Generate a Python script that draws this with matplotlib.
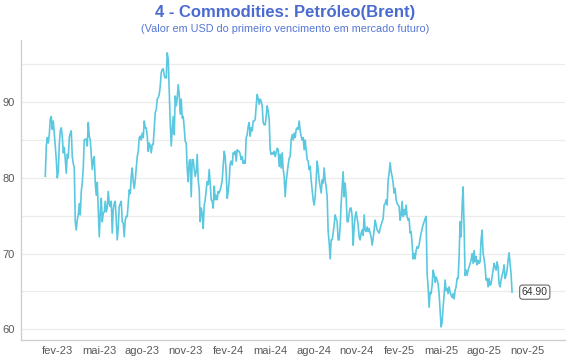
import matplotlib
matplotlib.use("Agg")
import matplotlib.pyplot as plt
import matplotlib.dates as mdates
import pandas as pd
import numpy as np

plt.rcParams['font.family'] = ['Liberation Sans', 'DejaVu Sans']

title = "4 - Commodities: Petróleo(Brent)"
subtitle = "(Valor em USD do primeiro vencimento em mercado futuro)"

start_date = "2023-01-05"
end_date = "2025-09-30"

brent = [
    # 2023
    80.2, 84.2, 85.3, 84.6, 85.7, 87.7, 88.1, 86.4, 87.5, 85.9,
    84.2, 82.4, 80.0, 80.8, 84.4, 86.2, 86.6, 85.5, 83.3, 84.0,
    82.4, 80.6, 83.1, 82.6, 85.3, 85.9, 86.2, 82.8, 81.9, 81.3,
    74.2, 73.1, 74.4, 75.1, 76.6, 75.1, 78.2, 79.3, 81.3, 85.0,
    85.1, 85.1, 84.2, 87.3, 85.5, 85.0, 83.1, 81.1, 82.4, 82.8,
    79.3, 77.7, 79.4, 75.8, 72.2, 75.3, 77.3, 74.2, 75.3, 75.5,
    76.9, 75.5, 76.0, 78.2, 76.6, 76.2, 76.9, 72.7, 75.8, 76.6,
    76.9, 74.2, 71.8, 73.5, 76.2, 76.6, 76.9, 74.2, 74.0, 72.2,
    74.4, 74.9, 74.9, 76.6, 78.4, 77.9, 80.2, 81.3, 79.5, 78.6,
    79.7, 81.3, 82.8, 83.5, 85.3, 85.5, 85.0, 85.9, 85.3, 87.5,
    86.6, 86.6, 85.5, 83.5, 84.6, 84.2, 83.3, 84.4, 84.4, 86.4,
    88.6, 89.0, 90.4, 90.6, 91.0, 92.1, 93.9, 94.3, 94.4, 93.5,
    93.2, 93.2, 96.5, 95.7, 91.7, 87.3, 84.2, 86.4, 88.1, 85.7,
    90.8, 89.5, 90.6, 92.3, 91.0, 88.4, 90.4, 87.9, 88.1, 86.6,
    84.8, 84.6, 81.1, 79.5, 82.2, 82.4, 77.5, 82.4, 82.4, 81.1,
    80.2, 80.8, 83.1, 79.7, 78.4, 74.2, 76.0, 75.3, 73.3, 76.4,
    77.1, 78.4, 79.5, 79.1, 81.1, 79.3,
    # 2024
    77.1, 76.9, 76.0, 78.9, 77.1, 77.7, 77.1, 78.2, 78.0, 78.4,
    78.9, 79.7, 81.5, 83.5, 82.8, 80.6, 77.3, 78.2, 79.7, 81.9,
    82.2, 81.7, 83.3, 83.1, 83.5, 82.2, 83.7, 83.5, 83.5, 83.1,
    82.4, 82.8, 81.9, 82.2, 81.9, 85.3, 85.7, 86.8, 87.3, 85.5,
    86.6, 86.2, 87.5, 87.5, 87.7, 89.5, 91.0, 90.4, 89.7, 90.4,
    90.1, 89.5, 87.3, 87.0, 87.0, 88.1, 89.5, 88.8, 87.7, 83.7,
    83.1, 83.3, 83.1, 83.5, 82.8, 83.3, 83.9, 83.7, 81.5, 83.1,
    81.3, 83.3, 81.1, 80.2, 77.5, 79.5, 80.6, 81.7, 82.6, 82.8,
    85.0, 85.7, 85.0, 85.9, 85.3, 86.4, 86.6, 86.4, 87.5, 86.2,
    85.5, 85.0, 85.3, 83.7, 85.0, 83.7, 82.4, 82.2, 81.1, 81.5,
    79.7, 78.4, 77.1, 76.4, 77.5, 79.7, 82.2, 81.1, 79.7, 78.8,
    78.0, 79.7, 79.3, 81.3, 79.7, 78.8, 77.5, 72.9, 71.5, 69.3,
    71.8, 71.8, 72.7, 73.8, 75.1, 74.6, 74.2, 71.8, 71.8, 73.5,
    76.6, 78.8, 80.8, 77.5, 79.3, 77.5, 74.2, 74.2, 75.3, 76.0,
    76.0, 74.9, 71.1, 73.5, 74.9, 75.5, 74.6, 73.8, 72.2, 71.8,
    # 2025
    72.7, 73.1, 72.4, 75.1, 73.1, 72.9, 73.5, 72.9, 73.3, 72.7,
    72.2, 71.1, 72.0, 73.1, 74.4, 73.8, 73.1, 72.9, 72.7, 73.3,
    73.8, 74.2, 74.6, 76.4, 76.6, 77.1, 76.4, 79.7, 80.6, 82.0,
    80.8, 80.2, 79.3, 78.0, 78.6, 77.1, 76.6, 76.4, 76.2, 74.4,
    75.1, 76.9, 74.9, 75.8, 75.1, 76.4, 74.9, 74.4, 74.6, 72.7,
    72.9, 71.3, 69.3, 70.0, 69.3, 70.4, 70.9, 70.7, 71.1, 72.0,
    72.7, 73.3, 73.8, 74.2, 74.6, 74.9, 67.3, 65.6, 62.9, 64.9,
    64.7, 65.8, 67.8, 67.3, 66.2, 66.9, 66.5, 66.0, 64.7, 62.5,
    60.3, 60.9, 62.9, 64.5, 66.5, 65.1, 65.4, 64.7, 65.6, 64.9,
    64.5, 64.2, 64.7, 64.0, 65.1, 65.6, 66.7, 66.7, 69.6, 74.2,
    72.2, 76.2, 78.8, 73.5, 67.1, 67.8, 67.1, 67.8, 68.2, 68.7,
    69.1, 70.0, 68.7, 70.4, 68.9, 69.6, 68.5, 69.1, 68.7, 68.9,
    71.8, 73.1, 70.0, 69.3, 68.2, 66.5, 66.7, 65.6, 66.7, 65.8,
    66.0, 66.9, 67.8, 68.7, 68.2, 67.8, 68.9, 68.2, 66.0, 65.6,
    66.5, 67.1, 67.6, 68.5, 66.7, 67.1, 67.8, 69.1, 70.1, 68.7,
    67.3, 64.9,
]

last_label = "64.90"

tick_dates = ["2023-02-01", "2023-05-01", "2023-08-01", "2023-11-01",
              "2024-02-01", "2024-05-01", "2024-08-01", "2024-11-01",
              "2025-02-01", "2025-05-01", "2025-08-01", "2025-11-01"]
tick_labels = ["fev-23", "mai-23", "ago-23", "nov-23", "fev-24", "mai-24",
               "ago-24", "nov-24", "fev-25", "mai-25", "ago-25", "nov-25"]
y_ticks = [60, 70, 80, 90]
y_grid = [60, 65, 70, 75, 80, 85, 90, 95]

dates = pd.date_range(start_date, end_date, periods=len(brent))

fig = plt.figure(figsize=(5.7, 3.6), dpi=100)
ax = fig.add_axes([0.036, 0.0556, 0.955, 0.8333])

line_color = "#5BC8E0"
ax.plot(dates, brent, color=line_color, linewidth=1.2, solid_joinstyle="round")

ax.set_ylim(58.58, 98.2)
ax.set_xlim(pd.Timestamp("2022-11-13"), pd.Timestamp("2026-01-21"))

for g in y_grid:
    ax.axhline(g, color="#ececec", linewidth=0.9, zorder=0)

ax.set_yticks(y_ticks)
ax.set_yticklabels([str(v) for v in y_ticks])
ax.set_xticks(pd.to_datetime(tick_dates))
ax.set_xticklabels(tick_labels)
ax.tick_params(axis="both", length=0, labelsize=8, labelcolor="#595959")
ax.tick_params(axis="y", pad=4)
ax.tick_params(axis="x", pad=4)

for s in ["top", "right"]:
    ax.spines[s].set_visible(False)
for s in ["left", "bottom"]:
    ax.spines[s].set_color("#cccccc")
    ax.spines[s].set_linewidth(0.9)

ax.annotate(last_label, xy=(dates[-1], brent[-1]), xytext=(7, 0),
            textcoords="offset points", ha="left", va="center", fontsize=7.5,
            color="#333333",
            bbox=dict(boxstyle="round,pad=0.2,rounding_size=0.25", fc="white",
                      ec="#555555", lw=0.7))

fig.text(0.5, 0.966, title, ha="center", va="center", fontsize=12,
         fontweight="bold", color="#4A6BD0")
fig.text(0.5, 0.919, subtitle, ha="center", va="center", fontsize=7.8,
         color="#5577D6")

fig.savefig("out.png", dpi=100)
